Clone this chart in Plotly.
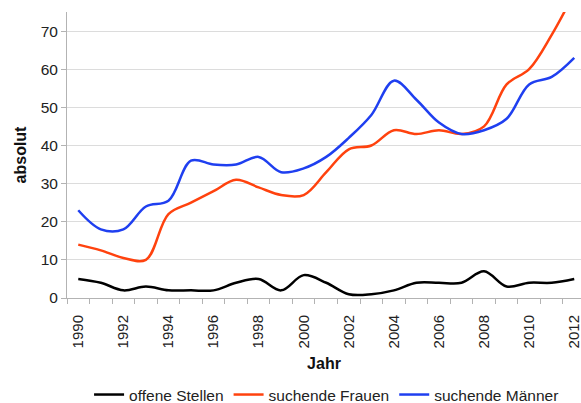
import plotly.graph_objects as go

years = list(range(1990, 2013))
offene_stellen = [5, 4, 2, 3, 2, 2, 2, 4, 5, 2, 6, 4, 1, 1, 2, 4, 4, 4, 7, 3, 4, 4, 5]
suchende_frauen = [14, 12.5, 10.5, 10, 22, 25, 28, 31, 29, 27, 27, 33, 39, 40, 44, 43, 44, 43, 45, 56, 60, 69, 80]
suchende_maenner = [23, 18, 18, 24, 25.5, 36, 35, 35, 37, 33, 34, 37, 42, 48, 57, 52, 46, 43, 44, 47, 56, 58, 63]
tick_years = list(range(1990, 2013, 2))

series = [
    ("offene Stellen", offene_stellen, "#000000"),
    ("suchende Frauen", suchende_frauen, "#ff420e"),
    ("suchende Männer", suchende_maenner, "#1f3ff0"),
]

FONT = "Liberation Sans, Arial, sans-serif"
fig = go.Figure()
for name, vals, color in series:
    fig.add_trace(go.Scatter(
        x=years, y=vals, name=name, mode="lines",
        line=dict(color=color, width=2.5, shape="spline", smoothing=1.0),
    ))

fig.update_layout(
    width=581, height=403,
    margin=dict(l=67, r=0, t=12, b=105, autoexpand=False),
    paper_bgcolor="white", plot_bgcolor="white",
    font=dict(family=FONT, size=15, color="#222222"),
    legend=dict(orientation="h", x=0.505, xanchor="center", y=-0.339, yanchor="middle",
                font=dict(size=15.5, color="#222222"), itemwidth=30, tracegroupgap=0,
                bgcolor="rgba(0,0,0,0)"),
    xaxis=dict(
        range=[1989.5, 2012.3], automargin=False,
        tickvals=tick_years, ticktext=[str(y) for y in tick_years],
        tickangle=-90, ticks="outside", ticklen=10, tickcolor="rgba(0,0,0,0)",
        ticklabeloverflow="allow",
        showgrid=False, zeroline=False,
        showline=True, linecolor="#b3b3b3", linewidth=1,
        minor=dict(tickvals=[y - 0.5 for y in years] + [2012.5], ticks="outside",
                   ticklen=5, tickcolor="#b3b3b3", showgrid=False),
        tickfont=dict(size=15),
        title=dict(text="<b>Jahr</b>", font=dict(size=16, color="#111111"), standoff=10),
    ),
    yaxis=dict(
        range=[0, 75], dtick=10, tick0=0, automargin=False,
        ticks="outside", ticklen=5, tickcolor="#b3b3b3",
        showgrid=True, gridcolor="#dcdcdc", gridwidth=1, zeroline=False,
        showline=True, linecolor="#b3b3b3", linewidth=1,
        tickfont=dict(size=15.5),
        title=dict(text="<b>absolut</b>", font=dict(size=16, color="#111111"), standoff=10),
    ),
)

# remove the default 8px page margin so the 581x403 figure fills the window exactly
fig.write_html("out.html", config={"displayModeBar": False},
               post_script="document.body.style.margin='0';")
